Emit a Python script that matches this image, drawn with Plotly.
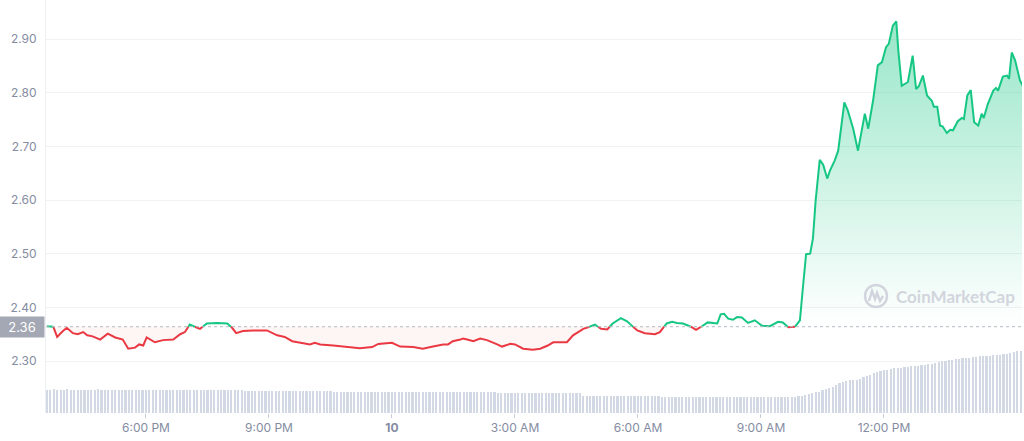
import pandas as pd
import plotly.graph_objects as go

# ---------------- data ----------------
times = [
    "2023-03-09 15:35", "2023-03-09 15:44", "2023-03-09 15:50", "2023-03-09 15:57", "2023-03-09 16:04",
    "2023-03-09 16:13", "2023-03-09 16:20", "2023-03-09 16:28", "2023-03-09 16:34", "2023-03-09 16:42",
    "2023-03-09 16:53", "2023-03-09 17:04", "2023-03-09 17:15", "2023-03-09 17:26", "2023-03-09 17:34",
    "2023-03-09 17:44", "2023-03-09 17:50", "2023-03-09 17:56", "2023-03-09 18:01", "2023-03-09 18:13",
    "2023-03-09 18:25", "2023-03-09 18:40", "2023-03-09 18:50", "2023-03-09 18:57", "2023-03-09 19:04",
    "2023-03-09 19:19", "2023-03-09 19:29", "2023-03-09 19:44", "2023-03-09 19:59", "2023-03-09 20:06",
    "2023-03-09 20:12", "2023-03-09 20:22", "2023-03-09 20:37", "2023-03-09 20:57", "2023-03-09 21:12",
    "2023-03-09 21:23", "2023-03-09 21:34", "2023-03-09 21:45", "2023-03-09 22:00", "2023-03-09 22:07",
    "2023-03-09 22:15", "2023-03-09 22:34", "2023-03-09 22:54", "2023-03-09 23:13", "2023-03-09 23:31",
    "2023-03-09 23:40", "2023-03-10 00:00", "2023-03-10 00:12", "2023-03-10 00:31", "2023-03-10 00:45",
    "2023-03-10 01:00", "2023-03-10 01:15", "2023-03-10 01:22", "2023-03-10 01:29", "2023-03-10 01:40",
    "2023-03-10 01:44", "2023-03-10 01:50", "2023-03-10 01:59", "2023-03-10 02:09", "2023-03-10 02:19",
    "2023-03-10 02:34", "2023-03-10 02:41", "2023-03-10 02:53", "2023-03-10 03:00", "2023-03-10 03:12",
    "2023-03-10 03:26", "2023-03-10 03:37", "2023-03-10 03:48", "2023-03-10 03:56", "2023-03-10 04:16",
    "2023-03-10 04:25", "2023-03-10 04:32", "2023-03-10 04:40", "2023-03-10 04:47", "2023-03-10 04:57",
    "2023-03-10 05:06", "2023-03-10 05:15", "2023-03-10 05:23", "2023-03-10 05:35", "2023-03-10 05:44",
    "2023-03-10 05:51", "2023-03-10 05:59", "2023-03-10 06:10", "2023-03-10 06:25", "2023-03-10 06:32",
    "2023-03-10 06:42", "2023-03-10 06:50", "2023-03-10 06:57", "2023-03-10 07:06", "2023-03-10 07:16",
    "2023-03-10 07:25", "2023-03-10 07:34", "2023-03-10 07:42", "2023-03-10 07:56", "2023-03-10 08:01",
    "2023-03-10 08:06", "2023-03-10 08:12", "2023-03-10 08:19", "2023-03-10 08:25", "2023-03-10 08:32",
    "2023-03-10 08:41", "2023-03-10 08:51", "2023-03-10 09:01", "2023-03-10 09:13", "2023-03-10 09:25",
    "2023-03-10 09:32", "2023-03-10 09:40", "2023-03-10 09:50", "2023-03-10 09:57", "2023-03-10 10:01",
    "2023-03-10 10:06", "2023-03-10 10:12", "2023-03-10 10:16", "2023-03-10 10:20", "2023-03-10 10:23",
    "2023-03-10 10:26", "2023-03-10 10:31", "2023-03-10 10:37", "2023-03-10 10:41", "2023-03-10 10:48",
    "2023-03-10 10:53", "2023-03-10 11:02", "2023-03-10 11:07", "2023-03-10 11:15", "2023-03-10 11:22",
    "2023-03-10 11:32", "2023-03-10 11:37", "2023-03-10 11:44", "2023-03-10 11:51", "2023-03-10 11:57",
    "2023-03-10 12:03", "2023-03-10 12:07", "2023-03-10 12:13", "2023-03-10 12:18", "2023-03-10 12:21",
    "2023-03-10 12:26", "2023-03-10 12:35", "2023-03-10 12:42", "2023-03-10 12:47", "2023-03-10 12:51",
    "2023-03-10 12:57", "2023-03-10 13:03", "2023-03-10 13:10", "2023-03-10 13:13", "2023-03-10 13:18",
    "2023-03-10 13:22", "2023-03-10 13:26", "2023-03-10 13:32", "2023-03-10 13:37", "2023-03-10 13:41",
    "2023-03-10 13:48", "2023-03-10 13:54", "2023-03-10 13:57", "2023-03-10 14:02", "2023-03-10 14:07",
    "2023-03-10 14:12", "2023-03-10 14:18", "2023-03-10 14:23", "2023-03-10 14:26", "2023-03-10 14:32",
    "2023-03-10 14:40", "2023-03-10 14:44", "2023-03-10 14:47", "2023-03-10 14:54", "2023-03-10 15:00",
    "2023-03-10 15:03", "2023-03-10 15:07", "2023-03-10 15:12", "2023-03-10 15:19", "2023-03-10 15:23",
]
prices = [
    2.365, 2.365, 2.345, 2.354, 2.362,
    2.352, 2.350, 2.354, 2.348, 2.346,
    2.340, 2.351, 2.344, 2.340, 2.323,
    2.325, 2.331, 2.329, 2.344, 2.335,
    2.339, 2.340, 2.350, 2.354, 2.368,
    2.360, 2.370, 2.371, 2.370, 2.362,
    2.352, 2.356, 2.357, 2.357, 2.348,
    2.345, 2.337, 2.334, 2.331, 2.334,
    2.331, 2.329, 2.327, 2.324, 2.326,
    2.332, 2.334, 2.327, 2.326, 2.323,
    2.327, 2.331, 2.331, 2.337, 2.340,
    2.342, 2.340, 2.337, 2.342, 2.339,
    2.331, 2.327, 2.332, 2.331, 2.323,
    2.321, 2.323, 2.329, 2.335, 2.335,
    2.348, 2.354, 2.360, 2.363, 2.368,
    2.360, 2.359, 2.370, 2.380, 2.374,
    2.366, 2.357, 2.352, 2.350, 2.354,
    2.370, 2.373, 2.371, 2.370, 2.365,
    2.358, 2.365, 2.372, 2.370, 2.387,
    2.388, 2.379, 2.377, 2.382, 2.381,
    2.371, 2.376, 2.366, 2.365, 2.373,
    2.372, 2.363, 2.364, 2.376, 2.432,
    2.499, 2.500, 2.528, 2.599, 2.636,
    2.675, 2.666, 2.640, 2.655, 2.674,
    2.692, 2.782, 2.767, 2.733, 2.692,
    2.761, 2.733, 2.785, 2.851, 2.857,
    2.885, 2.891, 2.925, 2.933, 2.879,
    2.813, 2.820, 2.869, 2.807, 2.812,
    2.832, 2.795, 2.785, 2.774, 2.774,
    2.739, 2.737, 2.725, 2.731, 2.730,
    2.747, 2.753, 2.751, 2.795, 2.805,
    2.745, 2.739, 2.761, 2.753, 2.779,
    2.804, 2.809, 2.804, 2.830, 2.832,
    2.826, 2.875, 2.860, 2.823, 2.813,
]

# 5-minute volume bars (arbitrary units), first bar at 15:35
vol_start = "2023-03-09 15:35"
volumes = [
    5.6, 5.6, 5.7, 5.6, 5.6, 5.6, 5.7, 5.6, 5.6, 5.6, 5.6, 5.6,
    5.6, 5.6, 5.6, 5.7, 5.6, 5.6, 5.6, 5.6, 5.6, 5.6, 5.6, 5.6,
    5.6, 5.6, 5.6, 5.6, 5.6, 5.6, 5.6, 5.6, 5.6, 5.6, 5.6, 5.6,
    5.6, 5.6, 5.6, 5.6, 5.6, 5.6, 5.6, 5.6, 5.6, 5.6, 5.6, 5.6,
    5.6, 5.6, 5.6, 5.6, 5.6, 5.6, 5.6, 5.6, 5.6, 5.6, 5.3, 5.3,
    5.3, 5.3, 5.3, 5.3, 5.3, 5.3, 5.3, 5.3, 5.3, 5.3, 5.3, 5.3,
    5.3, 5.3, 5.3, 5.3, 5.3, 5.3, 5.3, 5.3, 5.3, 5.3, 5.3, 5.3,
    5.2, 5.2, 5.2, 5.2, 5.2, 5.2, 5.2, 5.2, 5.2, 5.2, 5.2, 5.2,
    5.2, 5.2, 5.2, 5.2, 5.2, 5.2, 5.2, 5.2, 5.2, 5.2, 5.2, 5.2,
    5.1, 5.1, 5.1, 5.1, 5.1, 5.1, 5.1, 5.1, 5.1, 5.1, 5.1, 5.1,
    5.0, 5.0, 5.0, 5.0, 5.0, 5.0, 5.0, 5.0, 5.0, 5.0, 5.0, 5.0,
    4.9, 4.9, 4.9, 4.9, 4.9, 4.9, 4.9, 4.9, 4.9, 4.9, 4.9, 4.9,
    4.8, 4.8, 4.8, 4.8, 4.8, 4.8, 4.8, 4.8, 4.8, 4.8, 4.8, 4.8,
    4.8, 4.0, 4.0, 4.0, 4.0, 4.0, 4.0, 4.0, 4.0, 4.0, 4.0, 4.0,
    4.0, 4.0, 4.0, 4.0, 4.0, 4.0, 4.0, 4.0, 4.0, 4.0, 4.0, 4.0,
    3.9, 3.9, 3.9, 3.9, 3.9, 3.9, 3.9, 3.9, 3.9, 3.9, 3.9, 3.9,
    3.9, 3.9, 3.9, 3.9, 3.9, 3.9, 3.9, 3.9, 3.9, 3.9, 3.9, 3.9,
    3.8, 3.8, 3.8, 3.8, 3.8, 3.8, 3.8, 3.8, 3.8, 3.8, 3.8, 3.8,
    3.8, 3.8, 3.8, 3.9, 4.0, 4.2, 4.4, 4.6, 4.8, 5.0, 5.2, 5.5,
    5.8, 6.1, 6.4, 6.8, 7.2, 7.5, 7.8, 7.9, 8.0, 8.1, 8.3, 8.6,
    9.0, 9.3, 9.6, 9.9, 10.1, 10.3, 10.5, 10.6, 10.8, 10.9, 11.0, 11.1,
    11.2, 11.3, 11.4, 11.5, 11.6, 11.7, 11.8, 11.9, 12.1, 12.3, 12.5, 12.6,
    12.8, 12.9, 13.0, 13.1, 13.2, 13.3, 13.4, 13.5, 13.6, 13.7, 13.7, 13.8,
    13.9, 14.0, 14.0, 14.1, 14.2, 14.4, 14.6, 14.8, 15.0, 15.1,
]

BASELINE = 2.364
BASELINE_LABEL = "2.36"
y_ticks = [2.30, 2.40, 2.50, 2.60, 2.70, 2.80, 2.90]
x_tick_vals = ["2023-03-09 18:00", "2023-03-09 21:00", "2023-03-10 00:00", "2023-03-10 03:00",
               "2023-03-10 06:00", "2023-03-10 09:00", "2023-03-10 12:00"]
x_tick_text = ["6:00 PM", "9:00 PM", "<b>10</b>", "3:00 AM", "6:00 AM", "9:00 AM", "12:00 PM"]
x_range = ["2023-03-09 15:33:40", "2023-03-10 15:22:00"]

GREEN = "#16c784"
RED = "#ea3943"
GREY_TXT = "#858ca2"

# ---------------- split series at the baseline ----------------
t = pd.to_datetime(times)
xs, ys = [], []
for i, p in enumerate(prices):
    if i > 0:
        p0 = prices[i - 1]
        if (p0 - BASELINE) * (p - BASELINE) < 0:
            f = (BASELINE - p0) / (p - p0)
            xs.append(t[i - 1] + (t[i] - t[i - 1]) * f)
            ys.append(BASELINE)
    xs.append(t[i])
    ys.append(p)

eps = 1e-9
green_y = [y if y >= BASELINE - eps else None for y in ys]
red_y = [y if y <= BASELINE + eps else None for y in ys]
up_y = [max(y, BASELINE) for y in ys]
dn_y = [min(y, BASELINE) for y in ys]
base_y = [BASELINE for _ in ys]

vol_times = pd.date_range(vol_start, periods=len(volumes), freq="5min")

fig = go.Figure()

# volume bars
fig.add_trace(go.Bar(x=vol_times, y=volumes, yaxis="y2", width=190000,
                     marker=dict(color="#d3d8e5", line=dict(width=0)),
                     hoverinfo="skip", showlegend=False))

# green fill
fig.add_trace(go.Scatter(x=xs, y=base_y, mode="lines", line=dict(width=0),
                         hoverinfo="skip", showlegend=False))
fig.add_trace(go.Scatter(x=xs, y=up_y, mode="lines", line=dict(width=0), fill="tonexty",
                         fillgradient=dict(type="vertical",
                                           colorscale=[[0, "rgba(22,199,132,0.0)"],
                                                       [1, "rgba(22,199,132,0.45)"]],
                                           start=BASELINE, stop=2.95),
                         hoverinfo="skip", showlegend=False))
# red fill
fig.add_trace(go.Scatter(x=xs, y=base_y, mode="lines", line=dict(width=0),
                         hoverinfo="skip", showlegend=False))
fig.add_trace(go.Scatter(x=xs, y=dn_y, mode="lines", line=dict(width=0), fill="tonexty",
                         fillcolor="rgba(234,57,67,0.05)",
                         hoverinfo="skip", showlegend=False))

# lines
fig.add_trace(go.Scatter(x=xs, y=red_y, mode="lines", line=dict(color=RED, width=2),
                         connectgaps=False, showlegend=False))
fig.add_trace(go.Scatter(x=xs, y=green_y, mode="lines", line=dict(color=GREEN, width=2),
                         connectgaps=False, showlegend=False))

# baseline dotted line
fig.add_shape(type="line", xref="paper", x0=0, x1=1, yref="y", y0=BASELINE, y1=BASELINE,
              line=dict(color="#b4b9c4", width=1, dash="dot"), layer="above")

# baseline label
fig.add_annotation(xref="paper", x=0, xanchor="right", xshift=-1, yref="y", y=BASELINE,
                   text=BASELINE_LABEL, showarrow=False, bgcolor="#a4a8b4",
                   font=dict(family="Inter", size=13, color="white"),
                   width=44, height=20, borderpad=0, align="center")

# watermark
L, R, T, B = 46, 1022, 0, 413
def px(xp):
    return (xp - L) / (R - L)
def py(yp):
    return 1 - (yp - T) / (B - T)

WM = "#d2d5dd"
fig.add_annotation(xref="paper", yref="paper", x=px(894), y=py(296), xanchor="left", yanchor="middle",
                   text="CoinMarketCap", showarrow=False,
                   font=dict(family="Lato", size=17, color=WM, weight="bold"))
fig.add_shape(type="circle", xref="paper", yref="paper",
              x0=px(865), x1=px(887), y0=py(307), y1=py(285),
              line=dict(color=WM, width=2.5), layer="above")
path_pts = [(869, 301), (872, 291), (875, 299), (877, 293), (880, 301), (883, 296)]
path = "M " + " L ".join(f"{px(a):.5f},{py(b):.5f}" for a, b in path_pts)
fig.add_shape(type="path", xref="paper", yref="paper", path=path,
              line=dict(color=WM, width=2.5), layer="above")

fig.update_layout(
    width=1024, height=441,
    margin=dict(l=46, r=2, t=0, b=28),
    paper_bgcolor="white", plot_bgcolor="white",
    showlegend=False,
    bargap=0,
    xaxis=dict(type="date", range=x_range, tickvals=x_tick_vals, ticktext=x_tick_text,
               ticks="outside", ticklen=4, tickcolor="#c9cdd6", showgrid=False,
               zeroline=False, showline=False,
               tickfont=dict(family="Inter", size=12, color=GREY_TXT)),
    yaxis=dict(range=[2.2032, 2.9728], tickvals=y_ticks, tickformat=".2f",
               showgrid=True, gridcolor="#f1f2f4", gridwidth=1, zeroline=False,
               showline=True, linecolor="#eef0f3", linewidth=1,
               ticks="", ticklabelstandoff=6,
               tickfont=dict(family="Inter", size=12, color=GREY_TXT)),
    yaxis2=dict(range=[0, 100], overlaying="y", visible=False, showgrid=False),
)

fig.write_html("out.html", config={"displayModeBar": False},
               post_script="document.body.style.margin='0';")
